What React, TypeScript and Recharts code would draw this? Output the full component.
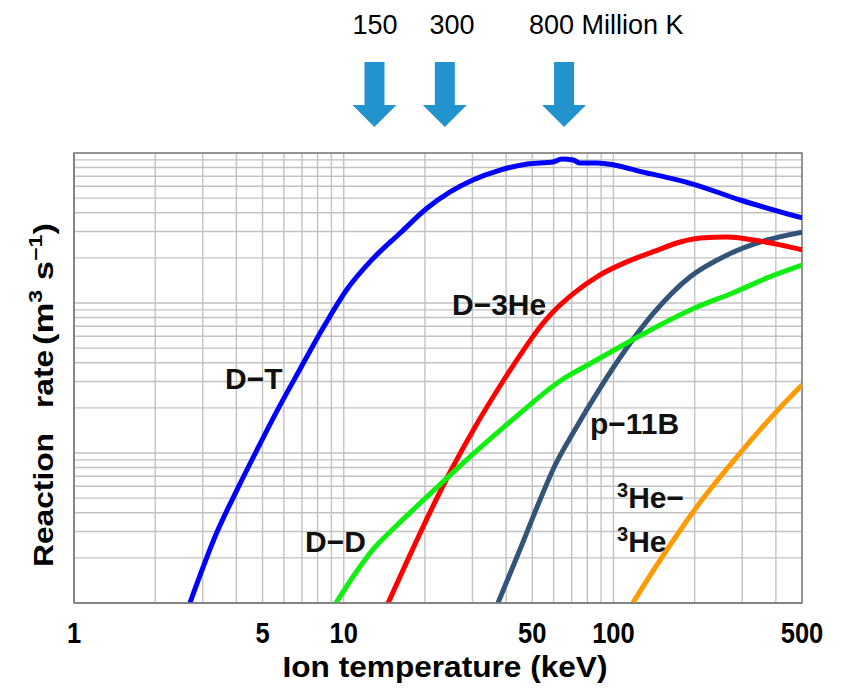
import React from 'react'
import {
  LineChart,
  Line,
  XAxis,
  YAxis,
  CartesianGrid,
  ReferenceArea,
  ReferenceDot,
} from 'recharts'

const W = 846
const H = 688
const FONT = '"Liberation Sans", Arial, Helvetica, sans-serif'

// Ion temperature (keV) and reaction rate (m^3 s^-1)
const dtTemp = [2.69, 3.39, 4.02, 4.77, 5.66, 6.89, 8.38, 10.3, 12.5, 16.2, 20.4, 24.8, 30.1, 38.0, 47.9, 59.7, 64.4, 70.8, 75.2, 86.9, 133, 197, 295, 500]
const dtRate = [1.0e-24, 2.97e-24, 5.67e-24, 1.05e-23, 1.91e-23, 3.63e-23, 6.81e-23, 1.24e-22, 1.88e-22, 2.93e-22, 4.3e-22, 5.5e-22, 6.61e-22, 7.7e-22, 8.45e-22, 8.71e-22, 9.12e-22, 8.98e-22, 8.57e-22, 8.57e-22, 7.36e-22, 6.21e-22, 4.86e-22, 3.69e-22]

const dhe3Temp = [14.6, 17.2, 20.9, 24.8, 30.2, 39.0, 46.2, 53.4, 59.7, 70.8, 89.2, 112, 140, 177, 210, 264, 330, 415, 500]
const dhe3Rate = [1e-24, 1.91e-24, 4.04e-24, 7.47e-24, 1.42e-23, 3.02e-23, 4.79e-23, 6.92e-23, 8.71e-23, 1.15e-22, 1.54e-22, 1.88e-22, 2.19e-22, 2.55e-22, 2.71e-22, 2.75e-22, 2.63e-22, 2.44e-22, 2.26e-22]

const ddTemp = [9.36, 11.0, 12.8, 15.5, 18.7, 24.8, 32.0, 43.9, 63.4, 84.0, 112, 133, 204, 278, 371, 500]
const ddRate = [1e-24, 1.56e-24, 2.26e-24, 3.21e-24, 4.43e-24, 7.13e-24, 1.08e-23, 1.77e-23, 3.02e-23, 4.04e-23, 5.41e-23, 6.41e-23, 9.4e-23, 1.17e-22, 1.47e-22, 1.79e-22]

const pbTemp = [37.3, 45.1, 53.4, 60.8, 70.8, 89.2, 112, 140, 192, 264, 371, 500]
const pbRate = [1e-24, 2.29e-24, 4.86e-24, 8.32e-24, 1.36e-23, 2.71e-23, 5.01e-23, 8.45e-23, 1.49e-22, 2.09e-22, 2.63e-22, 2.97e-22]

const he3Temp = [118, 140, 166, 210, 295, 391, 500]
const he3Rate = [1e-24, 1.63e-24, 2.59e-24, 4.71e-24, 1.0e-23, 1.79e-23, 2.84e-23]

// axis ticks / grid
const xGridTicks = [1, 2, 3, 4, 5, 6, 7, 8, 9, 10, 20, 30, 40, 50, 60, 70, 80, 90, 100, 200, 300, 400, 500]
const xTickLabels = [1, 5, 10, 50, 100, 500]
const yMantissas = [1, 2, 3, 4, 5, 6, 7, 8, 9]
const yDecades = [1e-24, 1e-23, 1e-22]
const yGridTicks = [...yDecades.flatMap((d) => yMantissas.map((m) => m * d)), 1e-21]

// temperature arrows (keV): 150, 300, 800 million K
const arrowTemps = [13, 23.7, 65.6]

const toPoints = (temps: number[], rates: number[]) =>
  temps.map((t, i) => ({ t, rate: rates[i] }))

const ARROW_BLUE = '#2393cd'
const AXIS_GREY = '#7f7f7f'

function Arrow({ cx, cy }: { cx?: number; cy?: number }) {
  if (cx == null || cy == null) return null
  return (
    <g>
      <rect x={cx - 10} y={cy - 91} width={20} height={43} fill={ARROW_BLUE} />
      <polygon
        points={`${cx - 22},${cy - 48} ${cx + 22},${cy - 48} ${cx},${cy - 26}`}
        fill={ARROW_BLUE}
      />
    </g>
  )
}

function XTick({ x, y, payload }: any) {
  if (!xTickLabels.includes(payload.value)) return <g />
  return (
    <text
      transform={`translate(${x},${y + 40}) scale(0.85,1)`}
      textAnchor="middle"
      fontFamily={FONT}
      fontWeight={700}
      fontSize={30}
      fill="#000"
    >
      {payload.value}
    </text>
  )
}

// y axis carries grid ticks only, no labels
function EmptyTick() {
  return <g />
}

const labelStyle = {
  fontFamily: FONT,
  fontWeight: 700,
  fontSize: 30,
  fill: '#111',
} as const

export default function App() {
  return (
    <div
      style={{
        position: 'absolute',
        left: 0,
        top: 0,
        width: W,
        height: H,
        background: '#fff',
      }}
    >
      <LineChart
        width={W}
        height={H}
        margin={{ top: 153, right: 44, bottom: 0, left: 73 }}
      >
        <CartesianGrid stroke="#c2c2c2" strokeWidth={1.4} />
        <XAxis
          dataKey="t"
          type="number"
          scale="log"
          domain={[1, 500]}
          ticks={xGridTicks}
          interval={0}
          allowDataOverflow
          tickLine={false}
          tickSize={0}
          tickMargin={0}
          axisLine={{ stroke: AXIS_GREY, strokeWidth: 1.5 }}
          height={85}
          tick={<XTick />}
        />
        <YAxis
          dataKey="rate"
          type="number"
          scale="log"
          domain={[1e-24, 1e-21]}
          ticks={yGridTicks}
          interval={0}
          allowDataOverflow
          tick={<EmptyTick />}
          tickLine={false}
          width={1}
          axisLine={{ stroke: AXIS_GREY, strokeWidth: 1.5 }}
        />
        <ReferenceArea
          x1={1}
          x2={500}
          y1={1e-24}
          y2={1e-21}
          fill="none"
          fillOpacity={0}
          stroke={AXIS_GREY}
          strokeWidth={1.5}
        />
        {arrowTemps.map((t) => (
          <ReferenceDot
            key={t}
            x={t}
            y={1e-21}
            r={0}
            ifOverflow="visible"
            shape={(p: any) => <Arrow cx={p.cx} cy={p.cy} />}
          />
        ))}
        <Line data={toPoints(dtTemp, dtRate)} dataKey="rate" type="monotone" stroke="#0000ff" strokeWidth={5} dot={false} isAnimationActive={false} />
        <Line data={toPoints(pbTemp, pbRate)} dataKey="rate" type="monotone" stroke="#325478" strokeWidth={5} dot={false} isAnimationActive={false} />
        <Line data={toPoints(dhe3Temp, dhe3Rate)} dataKey="rate" type="monotone" stroke="#ff0000" strokeWidth={5} dot={false} isAnimationActive={false} />
        <Line data={toPoints(ddTemp, ddRate)} dataKey="rate" type="monotone" stroke="#11ee11" strokeWidth={5} dot={false} isAnimationActive={false} />
        <Line data={toPoints(he3Temp, he3Rate)} dataKey="rate" type="monotone" stroke="#ff9a00" strokeWidth={5} dot={false} isAnimationActive={false} />
      </LineChart>

      {/* annotations */}
      <svg
        width={W}
        height={H}
        style={{ position: 'absolute', left: 0, top: 0, pointerEvents: 'none' }}
      >
        <g fontFamily={FONT} fontSize={27} fill="#000">
          <text x={375} y={34} textAnchor="middle">150</text>
          <text x={452} y={34} textAnchor="middle">300</text>
          <text x={529} y={34}>800 Million K</text>
        </g>

        <text x={225} y={389} {...labelStyle}>D−T</text>
        <text x={452} y={315} {...labelStyle}>D−3He</text>
        <text x={305} y={552} {...labelStyle}>D−D</text>
        <text x={590} y={434} {...labelStyle}>p−11B</text>
        <text x={617} y={508} {...labelStyle}>
          <tspan fontSize={20} dy={-11}>3</tspan>
          <tspan dy={11}>He−</tspan>
        </text>
        <text x={617} y={552} {...labelStyle}>
          <tspan fontSize={20} dy={-11}>3</tspan>
          <tspan dy={11}>He</tspan>
        </text>

        <text
          x={445}
          y={677}
          textAnchor="middle"
          fontFamily={FONT}
          fontWeight={700}
          fontSize={30}
          textLength={325}
          lengthAdjust="spacingAndGlyphs"
          fill="#000"
        >
          Ion temperature (keV)
        </text>

        <g fontFamily={FONT} fontWeight={700} fontSize={27} fill="#000">
          <text
            transform="translate(53,567) rotate(-90)"
            textLength={134}
            lengthAdjust="spacingAndGlyphs"
          >
            Reaction
          </text>
          <text
            transform="translate(53,408) rotate(-90)"
            textLength={58}
            lengthAdjust="spacingAndGlyphs"
          >
            rate
          </text>
          <text
            transform="translate(53,345) rotate(-90)"
            textLength={122}
            lengthAdjust="spacingAndGlyphs"
          >
            (m<tspan fontSize={18} dy={-11}>3</tspan>
            <tspan dy={11}> s</tspan>
            <tspan fontSize={18} dy={-11}>−1</tspan>
            <tspan dy={11}>)</tspan>
          </text>
        </g>
      </svg>
    </div>
  )
}
